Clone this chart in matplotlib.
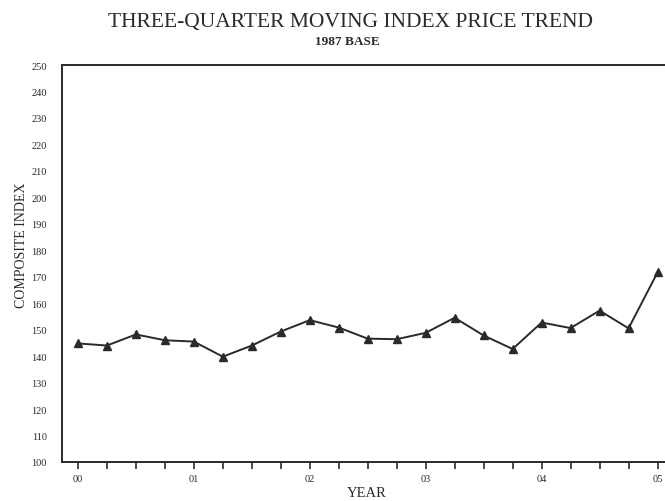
import matplotlib
matplotlib.use("Agg")
import matplotlib.pyplot as plt

# quarterly index values, 2000 Q1 .. 2005 Q1
quarters = list(range(21))
index_values = [144.8, 144.0, 148.2, 146.0, 145.5, 139.8, 144.0, 149.3, 153.6, 150.8,
                146.6, 146.4, 148.8, 154.5, 147.8, 142.7, 152.7, 150.6, 157.2, 150.5, 171.6]
year_labels = ["00", "01", "02", "03", "04", "05"]
y_ticks = list(range(100, 251, 10))

plt.rcParams['font.family'] = ['Liberation Serif', 'DejaVu Serif']

fig = plt.figure(figsize=(6.65, 5.02), dpi=100)
W, H = 665, 502
left, right, top, bottom = 62, 672, 66, 463
ax = fig.add_axes([left / W, 1 - bottom / H, (right - left) / W, (bottom - top) / H])

ink = "#2a2a2a"
ax.plot(quarters, index_values, color=ink, linewidth=1.4, marker="^", markersize=6,
        markerfacecolor=ink, markeredgecolor=ink)

ax.set_xlim(-0.55, 20.5)
ax.set_ylim(100, 250)
ax.set_yticks(y_ticks)
ax.set_yticklabels([str(v) for v in y_ticks], fontsize=7.5, color=ink)
ax.tick_params(axis="y", length=0, pad=11)

ax.set_xticks(quarters)
ax.set_xticklabels([year_labels[q // 4] if q % 4 == 0 else "" for q in quarters],
                   fontsize=7.5, color=ink)
ax.tick_params(axis="x", direction="out", length=5, width=1.2, color=ink, pad=4)

for s in ax.spines.values():
    s.set_color(ink)
    s.set_linewidth(1.4)

ax.set_xlabel("YEAR", fontsize=10.5, color=ink, labelpad=2)
ax.set_ylabel("COMPOSITE INDEX", fontsize=10, color=ink)
ax.yaxis.set_label_coords(-0.056, 0.549)

fig.text(350 / W, 1 - 22 / H, "THREE-QUARTER MOVING INDEX PRICE TREND",
         ha="center", va="center", fontsize=15.5, color=ink)
fig.text(347 / W, 1 - 42 / H, "1987 BASE", ha="center", va="center",
         fontsize=9.5, fontweight="bold", color=ink)

fig.savefig("out.png", dpi=100)
